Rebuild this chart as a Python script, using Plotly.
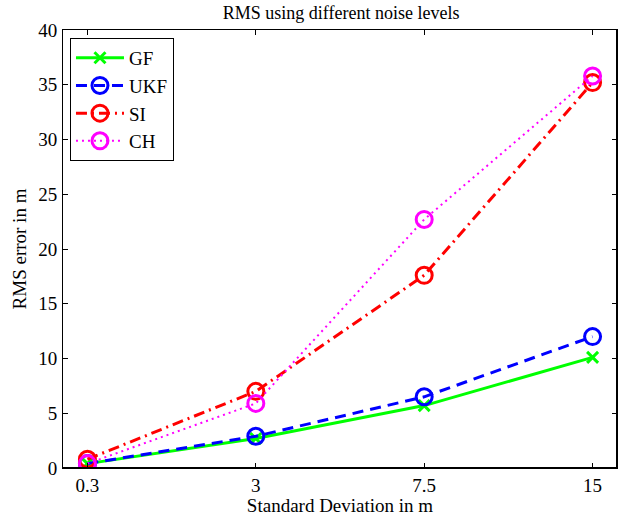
import plotly.graph_objects as go

categories = ["0.3", "3", "7.5", "15"]
gf = [0.4, 2.7, 5.7, 10.1]
ukf = [0.4, 2.9, 6.5, 12.0]
si = [0.8, 7.0, 17.6, 35.2]
ch = [0.4, 5.9, 22.7, 35.8]
y_ticks = [0, 5, 10, 15, 20, 25, 30, 35, 40]

FONT = "Liberation Serif, Times New Roman, serif"

fig = go.Figure()
fig.add_trace(go.Scatter(x=categories, y=gf, name="GF", mode="lines+markers",
                         line=dict(color="#00ff00", width=3, dash="solid"),
                         marker=dict(symbol="x-thin", size=11, line=dict(color="#00ff00", width=3))))
fig.add_trace(go.Scatter(x=categories, y=ukf, name="UKF", mode="lines+markers",
                         line=dict(color="#0000ff", width=3, dash="11px,7px"),
                         marker=dict(symbol="circle-open", size=16, color="#0000ff", line=dict(width=3))))
fig.add_trace(go.Scatter(x=categories, y=si, name="SI", mode="lines+markers",
                         line=dict(color="#ff0000", width=3, dash="11px,5px,2px,5px"),
                         marker=dict(symbol="circle-open", size=16, color="#ff0000", line=dict(width=3))))
fig.add_trace(go.Scatter(x=categories, y=ch, name="CH", mode="lines+markers",
                         line=dict(color="#ff00ff", width=2, dash="2px,4px"),
                         marker=dict(symbol="circle-open", size=16, color="#ff00ff", line=dict(width=3))))

axis_common = dict(showline=True, linecolor="black", linewidth=1, mirror="ticks",
                   ticks="inside", ticklen=5, tickcolor="black", showgrid=False,
                   zeroline=False, automargin=False,
                   tickfont=dict(family=FONT, size=19, color="black"))

fig.update_layout(
    width=626, height=516,
    margin=dict(l=63, r=9, t=30, b=48),
    paper_bgcolor="white", plot_bgcolor="white",
    title=dict(text="RMS using different noise levels", x=0.545, xanchor="center",
               y=0.976, yanchor="middle", yref="container",
               font=dict(family=FONT, size=18, color="black")),
    xaxis=dict(type="category", range=[-0.145, 3.145],
               title=dict(text="Standard Deviation in m", standoff=5,
                          font=dict(family=FONT, size=19, color="black")),
               **axis_common),
    yaxis=dict(range=[0, 40], tickvals=y_ticks, ticklabelstandoff=1,
               title=dict(text="RMS error in m", standoff=6,
                          font=dict(family=FONT, size=19, color="black")),
               **axis_common),
    legend=dict(x=0.0126, y=0.982, xanchor="left", yanchor="top",
                bgcolor="white", bordercolor="black", borderwidth=1,
                font=dict(family=FONT, size=19, color="black"),
                itemwidth=48, tracegroupgap=0),
    showlegend=True,
    hovermode=False,
    shapes=[
        dict(type="line", xref="paper", yref="paper", x0=0, x1=1, y0=0, y1=0,
             line=dict(color="black", width=2)),
        dict(type="line", xref="paper", yref="paper", x0=1, x1=1, y0=0, y1=1,
             line=dict(color="black", width=2)),
    ],
)

# remove the default 8px page margin so the figure sits at the window's corner
fig.write_html("out.html", config={"displayModeBar": False},
               post_script="document.body.style.margin='0';")
